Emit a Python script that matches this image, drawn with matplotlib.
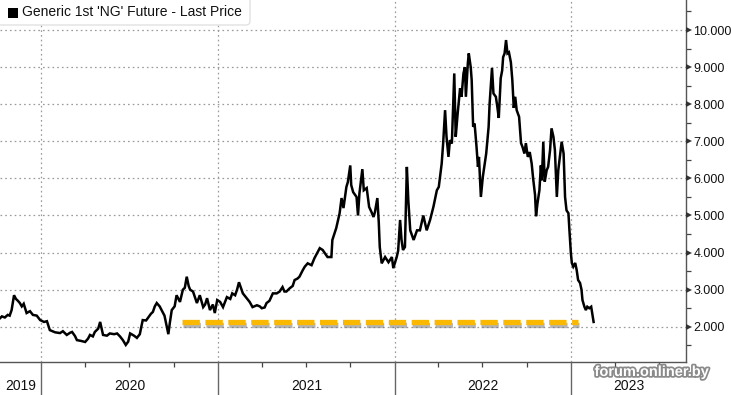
import matplotlib
matplotlib.use('Agg')
import matplotlib.pyplot as plt
import matplotlib.dates as mdates
import matplotlib.patheffects as pe
from matplotlib.patches import FancyBboxPatch, Rectangle
from matplotlib.transforms import ScaledTranslation
import pandas as pd

# ---------------- data ----------------
dates = [
    "2019-10-08", "2019-10-12", "2019-10-18", "2019-10-24", "2019-10-28", "2019-11-01", "2019-11-06",
    "2019-11-10", "2019-11-14", "2019-11-18", "2019-11-22", "2019-11-26", "2019-12-02", "2019-12-09",
    "2019-12-15", "2019-12-23", "2019-12-30", "2020-01-07", "2020-01-13", "2020-01-19", "2020-01-30",
    "2020-02-09", "2020-02-15", "2020-02-23", "2020-03-01", "2020-03-05", "2020-03-11", "2020-03-15",
    "2020-03-23", "2020-04-01", "2020-04-07", "2020-04-11", "2020-04-17", "2020-04-21", "2020-04-28",
    "2020-05-02", "2020-05-08", "2020-05-16", "2020-05-22", "2020-05-31", "2020-06-06", "2020-06-12",
    "2020-06-18", "2020-06-24", "2020-06-29", "2020-07-03", "2020-07-11", "2020-07-17", "2020-07-23",
    "2020-07-29", "2020-08-05", "2020-08-09", "2020-08-15", "2020-08-19", "2020-08-23", "2020-08-27",
    "2020-09-02", "2020-09-08", "2020-09-12", "2020-09-16", "2020-09-20", "2020-09-23", "2020-09-27",
    "2020-10-03", "2020-10-07", "2020-10-14", "2020-10-20", "2020-10-24", "2020-10-28", "2020-11-01",
    "2020-11-04", "2020-11-10", "2020-11-18", "2020-11-24", "2020-12-01", "2020-12-05", "2020-12-09",
    "2020-12-15", "2020-12-21", "2020-12-25", "2020-12-30", "2021-01-05", "2021-01-11", "2021-01-19",
    "2021-01-26", "2021-01-30", "2021-02-05", "2021-02-09", "2021-02-13", "2021-02-17", "2021-02-21",
    "2021-03-01", "2021-03-07", "2021-03-13", "2021-03-22", "2021-03-28", "2021-04-01", "2021-04-07",
    "2021-04-11", "2021-04-17", "2021-04-24", "2021-05-02", "2021-05-08", "2021-05-14", "2021-05-18",
    "2021-05-22", "2021-05-29", "2021-06-04", "2021-06-08", "2021-06-14", "2021-06-18", "2021-06-25",
    "2021-06-29", "2021-07-05", "2021-07-13", "2021-07-19", "2021-07-30", "2021-08-05", "2021-08-15",
    "2021-08-23", "2021-08-25", "2021-09-02", "2021-09-09", "2021-09-13", "2021-09-17", "2021-09-23",
    "2021-09-26", "2021-10-01", "2021-10-03", "2021-10-07", "2021-10-14", "2021-10-17", "2021-10-20",
    "2021-10-26", "2021-10-29", "2021-11-04", "2021-11-09", "2021-11-14", "2021-11-18", "2021-11-21",
    "2021-11-26", "2021-11-29", "2021-12-01", "2021-12-05", "2021-12-12", "2021-12-19", "2021-12-26",
    "2021-12-29", "2022-01-05", "2022-01-08", "2022-01-12", "2022-01-15", "2022-01-18", "2022-01-22",
    "2022-01-26", "2022-01-29", "2022-02-02", "2022-02-09", "2022-02-16", "2022-02-22", "2022-03-01",
    "2022-03-08", "2022-03-15", "2022-03-22", "2022-03-29", "2022-04-02", "2022-04-08", "2022-04-11",
    "2022-04-15", "2022-04-18", "2022-04-22", "2022-04-25", "2022-04-29", "2022-05-04", "2022-05-07",
    "2022-05-11", "2022-05-16", "2022-05-19", "2022-05-23", "2022-05-26", "2022-05-28", "2022-06-01",
    "2022-06-03", "2022-06-07", "2022-06-09", "2022-06-12", "2022-06-15", "2022-06-19", "2022-06-22",
    "2022-06-24", "2022-06-28", "2022-07-02", "2022-07-06", "2022-07-09", "2022-07-14", "2022-07-16",
    "2022-07-21", "2022-07-24", "2022-07-29", "2022-08-01", "2022-08-04", "2022-08-08", "2022-08-11",
    "2022-08-13", "2022-08-16", "2022-08-19", "2022-08-22", "2022-08-25", "2022-08-29", "2022-09-01",
    "2022-09-04", "2022-09-07", "2022-09-10", "2022-09-15", "2022-09-19", "2022-09-22", "2022-09-26",
    "2022-09-29", "2022-10-03", "2022-10-07", "2022-10-11", "2022-10-14", "2022-10-18", "2022-10-20",
    "2022-10-23", "2022-10-27", "2022-10-30", "2022-11-01", "2022-11-04", "2022-11-07", "2022-11-11",
    "2022-11-14", "2022-11-18", "2022-11-21", "2022-11-25", "2022-11-28", "2022-12-02", "2022-12-05",
    "2022-12-09", "2022-12-12", "2022-12-16", "2022-12-19", "2022-12-22", "2022-12-26", "2022-12-28",
    "2022-12-31", "2023-01-02", "2023-01-05", "2023-01-09", "2023-01-12", "2023-01-15", "2023-01-19",
    "2023-01-22", "2023-01-24", "2023-01-28", "2023-01-31", "2023-02-03", "2023-02-07", "2023-02-11",
    "2023-02-16",
]
prices = [
    2.23, 2.28, 2.25, 2.32, 2.30, 2.45, 2.85,
    2.75, 2.70, 2.64, 2.55, 2.62, 2.37, 2.42,
    2.32, 2.30, 2.18, 2.13, 2.15, 1.91, 1.85,
    1.83, 1.88, 1.78, 1.84, 1.86, 1.75, 1.64,
    1.62, 1.59, 1.68, 1.78, 1.74, 1.86, 1.95,
    2.13, 1.78, 1.76, 1.82, 1.80, 1.82, 1.74,
    1.64, 1.51, 1.60, 1.82, 1.76, 1.70, 1.80,
    2.18, 2.17, 2.24, 2.35, 2.40, 2.55, 2.64,
    2.55, 2.40, 2.30, 2.05, 1.80, 2.10, 2.45,
    2.55, 2.85, 2.67, 3.00, 3.05, 3.35, 3.10,
    3.00, 2.95, 2.64, 2.85, 2.53, 2.60, 2.77,
    2.45, 2.60, 2.37, 2.72, 2.67, 2.53, 2.80,
    2.75, 2.90, 2.85, 3.00, 3.20, 3.05, 2.90,
    2.77, 2.67, 2.53, 2.58, 2.55, 2.50, 2.52,
    2.64, 2.70, 2.90, 2.90, 2.95, 3.07, 2.95,
    2.95, 3.04, 3.10, 3.26, 3.30, 3.35, 3.53,
    3.62, 3.71, 3.66, 3.85, 4.12, 4.07, 3.88,
    3.88, 4.34, 4.66, 5.06, 5.47, 5.20, 5.77,
    5.90, 6.35, 5.82, 5.63, 5.50, 5.00, 5.60,
    6.25, 5.68, 5.74, 5.23, 5.09, 4.96, 5.09,
    5.47, 4.80, 4.15, 3.71, 3.88, 3.74, 3.88,
    3.58, 3.88, 4.05, 4.88, 4.34, 4.07, 4.15,
    6.31, 5.41, 4.60, 4.34, 4.60, 4.60, 5.00,
    4.60, 4.88, 5.24, 5.68, 5.77, 6.40, 6.94,
    7.84, 7.12, 6.58, 7.03, 6.94, 8.83, 7.12,
    7.75, 8.43, 8.20, 8.83, 9.00, 8.20, 9.10,
    9.37, 9.00, 8.65, 7.39, 7.48, 6.85, 6.31,
    6.58, 5.50, 6.04, 6.40, 6.67, 7.39, 8.00,
    8.98, 8.29, 8.20, 7.93, 7.63, 8.70, 8.91,
    9.27, 9.37, 9.73, 9.37, 9.40, 9.13, 8.65,
    7.90, 8.20, 7.84, 7.66, 6.95, 6.85, 6.67,
    6.95, 6.58, 6.71, 6.40, 6.00, 5.55, 4.98,
    5.33, 5.68, 6.35, 5.95, 6.99, 5.91, 6.22,
    6.31, 6.76, 7.35, 7.12, 6.76, 5.50, 6.22,
    6.67, 6.99, 6.67, 5.50, 5.14, 5.06, 4.61,
    3.99, 3.72, 3.62, 3.72, 3.53, 3.26, 3.18,
    3.00, 2.72, 2.54, 2.45, 2.54, 2.50, 2.54,
    2.13,
]
level_dates = ["2020-10-18", "2023-01-15"]
level_value = 2.12
year_labels = ["2019", "2020", "2021", "2022", "2023"]
y_ticks = [2, 3, 4, 5, 6, 7, 8, 9, 10]
series_label = "Generic 1st 'NG' Future - Last Price"
watermark = "forum.onliner.by"
x_range = ["2019-10-08", "2023-08-26"]
y_range = [1.05, 10.81]

# ---------------- figure ----------------
W, H = 731, 395
plt.rcParams['font.family'] = ['Liberation Sans', 'DejaVu Sans']
plt.rcParams['lines.scale_dashes'] = False
fig = plt.figure(figsize=(W / 100, H / 100), dpi=100)
fig.patch.set_facecolor('white')

ax = fig.add_axes([0, 33 / H, 686 / W, 362 / H])
x = pd.to_datetime(dates)
ax.plot(x, prices, color='black', lw=1.8, zorder=4, solid_joinstyle='miter')

ax.plot(pd.to_datetime(level_dates), [level_value, level_value], color='#FBB800',
        lw=3.8, dashes=(12.5, 4.0), dash_capstyle='butt', zorder=3,
        path_effects=[pe.SimpleLineShadow(offset=(0.6, -1.8), shadow_color='#777777', alpha=0.55),
                      pe.Normal()])

xmin, xmax = pd.Timestamp(x_range[0]), pd.Timestamp(x_range[1])
ax.set_xlim(xmin, xmax)
ax.set_ylim(*y_range)

# grid
for yv in y_ticks:
    ax.axhline(yv, color='#9a9a9a', lw=0.9, ls=(0, (1.2, 2.2)), zorder=1)
year_starts = [pd.Timestamp(f"{y}-01-01") for y in year_labels[1:]]
for ys in year_starts:
    ax.axvline(ys, color='#9a9a9a', lw=0.9, ls=(0, (1.2, 2.2)), zorder=1)

# spines
for s in ['left', 'top']:
    ax.spines[s].set_visible(False)
for s in ['right', 'bottom']:
    ax.spines[s].set_color('#555555')
    ax.spines[s].set_linewidth(1.0)

# y axis on right
ax.yaxis.tick_right()
ax.set_yticks(y_ticks)
ax.set_yticklabels([f"{v:.3f}" for v in y_ticks], fontsize=9.0, color='#111111')
ax.set_yticks([v + 0.5 for v in range(1, 11)], minor=True)
ax.tick_params(axis='y', which='major', length=5, width=0, pad=0.3)
ax.tick_params(axis='y', which='minor', length=3.5, width=0.9, color='#444444', direction='out')
tri_tf = ax.get_yaxis_transform() + ScaledTranslation(2.8 / 100, 0, fig.dpi_scale_trans)
ax.plot([1] * len(y_ticks), y_ticks, transform=tri_tf, marker='>', ms=5, mew=0,
        color='#333333', ls='none', clip_on=False, zorder=5)

# x axis: quarter minor ticks, no labels
ax.xaxis.set_major_locator(mdates.YearLocator())
ax.xaxis.set_minor_locator(mdates.MonthLocator(bymonth=[4, 7, 10]))
ax.tick_params(axis='x', which='major', length=0, labelbottom=False)
ax.tick_params(axis='x', which='minor', length=3.5, width=0.9, color='#444444', direction='out')

# bottom strip with year separators and labels
ax2 = fig.add_axes([0, 0, 686 / W, 33 / H], sharex=ax)
ax2.set_ylim(0, 1)
ax2.axis('off')
for ys in year_starts:
    ax2.axvline(ys, color='#666666', lw=1.0)
bounds = [xmin] + year_starts + [xmax]
for i, lab in enumerate(year_labels):
    mid = bounds[i] + (bounds[i + 1] - bounds[i]) / 2
    ax2.text(mid, 0.27, lab, ha='center', va='center', fontsize=10, color='#111111')

# legend box
box = FancyBboxPatch((-6, H - 25), 256, 32, boxstyle='round,pad=0,rounding_size=4',
                     transform=None, facecolor='white', edgecolor='#e2e2e2', lw=1.0, zorder=10)
fig.patches.append(box)
sq = Rectangle((8, H - 18), 10, 10, transform=None, facecolor='black', edgecolor='none', zorder=11)
fig.patches.append(sq)
fig.text(22 / W, (H - 12.5) / H, series_label, ha='left', va='center', fontsize=10,
         color='#111111', zorder=12)

# watermark
fig.text(652 / W, (H - 372) / H, watermark, ha='center', va='center', fontsize=10.5,
         fontweight='bold', color='white', zorder=12,
         path_effects=[pe.withStroke(linewidth=2.5, foreground='#8a8a8a')])

fig.savefig('out.png', dpi=100, facecolor='white')
